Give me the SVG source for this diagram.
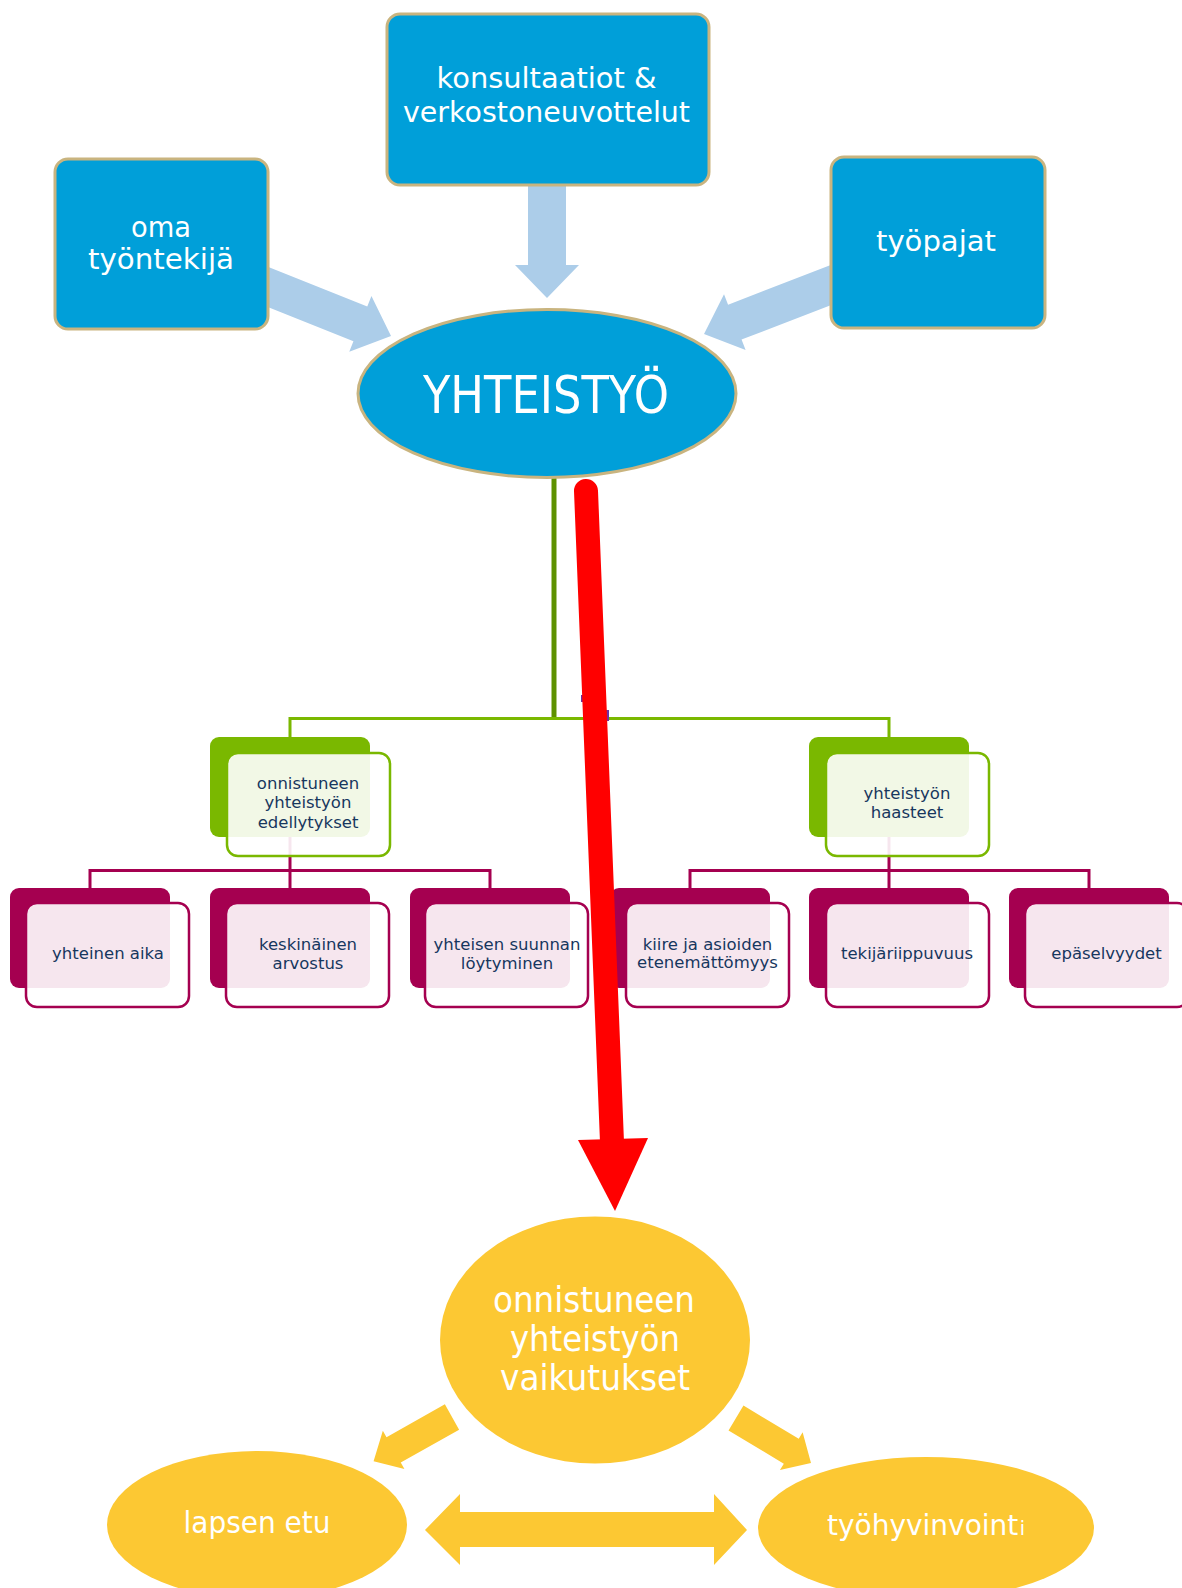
<svg xmlns="http://www.w3.org/2000/svg" width="1182" height="1588" viewBox="0 0 1182 1588">
<style>
.box{fill:#009FD9;stroke:#C9B47F;stroke-width:3}
.big{font-family:"DejaVu Sans","Liberation Sans",sans-serif;fill:#fff;text-anchor:middle}
.sm{font-family:"DejaVu Sans","Liberation Sans",sans-serif;fill:#17375E;text-anchor:middle;font-size:16.5px}
.barrow{fill:#ACCDE9}
.yarrow{fill:#FCC833}
.gback{fill:#7AB800}
.gfront{fill:#fff;fill-opacity:0.9;stroke:#7AB800;stroke-width:2.5}
.pback{fill:#A50050}
.pfront{fill:#fff;fill-opacity:0.9;stroke:#A50050;stroke-width:2.5}
.yell{fill:#FCC833}
.gline{stroke:#7AB800;stroke-width:3;fill:none}
.pline{stroke:#A50050;stroke-width:3;fill:none}
</style>
<rect width="1182" height="1588" fill="#fff"/>
<g id="connectors">
  <polygon class="barrow" points="528,185 566,185 566,265 579,265 547,298 515,265 528,265"/>
  <polygon class="barrow" transform="translate(268,287) rotate(21.7)" points="-25,-18.7 99.4,-18.7 99.4,-30 132.4,0 99.4,30 99.4,18.7 -25,18.7"/>
  <polygon class="barrow" transform="translate(831,285) rotate(158.9)" points="-25,-18.7 103.1,-18.7 103.1,-30 136.1,0 103.1,30 103.1,18.7 -25,18.7"/>
  <line x1="554" y1="474" x2="554" y2="720" stroke="#5E9100" stroke-width="5"/>
  <polyline class="gline" points="290,737 290,718.5 889,718.5 889,737"/>
  <polyline class="pline" points="90,888 90,870.5 490,870.5 490,888"/>
  <line class="pline" x1="290" y1="837" x2="290" y2="888"/>
  <polyline class="pline" points="690,888 690,870.5 1089,870.5 1089,888"/>
  <line class="pline" x1="889" y1="837" x2="889" y2="888"/>
  <rect x="581" y="695" width="2.5" height="7" fill="#7030A0"/>
  <rect x="606" y="710" width="3" height="11" fill="#7030A0"/>
  <polygon class="yarrow" transform="translate(452,1417) rotate(150.6)" points="0,-14.5 67,-14.5 67,-22 90,0 67,22 67,14.5 0,14.5"/>
  <polygon class="yarrow" transform="translate(736,1418) rotate(31)" points="0,-14.5 64.5,-14.5 64.5,-22 87.5,0 64.5,22 64.5,14.5 0,14.5"/>
  <polygon class="yarrow" points="425,1530 460,1494 460,1512 714,1512 714,1494 747,1530 714,1565 714,1547 460,1547 460,1565"/>
</g>
<g id="node-konsultaatiot">
  <rect class="box" x="387" y="14" width="322" height="171" rx="13"/>
  <text class="big" font-size="29" x="546.5" y="87.5" textLength="220" lengthAdjust="spacingAndGlyphs">konsultaatiot &amp;</text>
  <text class="big" font-size="29" x="546.5" y="121.5" textLength="287" lengthAdjust="spacingAndGlyphs">verkostoneuvottelut</text>
</g>
<g id="node-oma">
  <rect class="box" x="55" y="159" width="213" height="170" rx="13"/>
  <text class="big" font-size="29" x="161" y="236.5" textLength="60" lengthAdjust="spacingAndGlyphs">oma</text>
  <text class="big" font-size="29" x="161" y="268.5" textLength="146" lengthAdjust="spacingAndGlyphs">työntekijä</text>
</g>
<g id="node-tyopajat">
  <rect class="box" x="831" y="157" width="214" height="171" rx="13"/>
  <text class="big" font-size="29" x="936" y="250.5" textLength="120" lengthAdjust="spacingAndGlyphs">työpajat</text>
</g>
<g id="node-yhteistyo">
  <ellipse class="box" cx="547" cy="393.5" rx="189" ry="84"/>
  <text class="big" font-size="52" x="546" y="412.5" textLength="246" lengthAdjust="spacingAndGlyphs">YHTEISTYÖ</text>
</g>
<g id="node-edellytykset">
  <rect class="gback" x="210" y="737" width="160" height="100" rx="9"/>
  <rect class="gfront" x="227" y="753" width="163" height="103" rx="11"/>
  <text class="sm" x="308" y="789.3">onnistuneen</text>
  <text class="sm" x="308" y="808.3">yhteistyön</text>
  <text class="sm" x="308" y="827.5">edellytykset</text>
</g>
<g id="node-haasteet">
  <rect class="gback" x="809" y="737" width="160" height="100" rx="9"/>
  <rect class="gfront" x="826" y="753" width="163" height="103" rx="11"/>
  <text class="sm" x="907" y="798.5">yhteistyön</text>
  <text class="sm" x="907" y="817.5">haasteet</text>
</g>
<g id="node-yhteinen-aika">
  <rect class="pback" x="10" y="888" width="160" height="100" rx="9"/>
  <rect class="pfront" x="26" y="903" width="163" height="104" rx="11"/>
  <text class="sm" x="108" y="958.5">yhteinen aika</text>
</g>
<g id="node-keskinainen">
  <rect class="pback" x="210" y="888" width="160" height="100" rx="9"/>
  <rect class="pfront" x="226" y="903" width="163" height="104" rx="11"/>
  <text class="sm" x="308" y="949.5">keskinäinen</text>
  <text class="sm" x="308" y="968.5">arvostus</text>
</g>
<g id="node-suunnan">
  <rect class="pback" x="410" y="888" width="160" height="100" rx="9"/>
  <rect class="pfront" x="425" y="903" width="163" height="104" rx="11"/>
  <text class="sm" x="507" y="949.5">yhteisen suunnan</text>
  <text class="sm" x="507" y="968.5">löytyminen</text>
</g>
<g id="node-kiire">
  <rect class="pback" x="610" y="888" width="160" height="100" rx="9"/>
  <rect class="pfront" x="626" y="903" width="163" height="104" rx="11"/>
  <text class="sm" x="707.5" y="949.5">kiire ja asioiden</text>
  <text class="sm" x="707.5" y="968">etenemättömyys</text>
</g>
<g id="node-tekijariippuvuus">
  <rect class="pback" x="809" y="888" width="160" height="100" rx="9"/>
  <rect class="pfront" x="826" y="903" width="163" height="104" rx="11"/>
  <text class="sm" x="907" y="958.5">tekijäriippuvuus</text>
</g>
<g id="node-epaselvyydet">
  <rect class="pback" x="1009" y="888" width="160" height="100" rx="9"/>
  <rect class="pfront" x="1025" y="903" width="163" height="104" rx="11"/>
  <text class="sm" x="1106.5" y="958.5">epäselvyydet</text>
</g>
<g id="node-vaikutukset">
  <ellipse class="yell" cx="595" cy="1340" rx="155" ry="123.5"/>
  <text class="big" font-size="35" x="594" y="1312" textLength="202" lengthAdjust="spacingAndGlyphs">onnistuneen</text>
  <text class="big" font-size="35" x="595" y="1351" textLength="170" lengthAdjust="spacingAndGlyphs">yhteistyön</text>
  <text class="big" font-size="35" x="595" y="1389.5" textLength="190" lengthAdjust="spacingAndGlyphs">vaikutukset</text>
</g>
<g id="node-lapsen-etu">
  <ellipse class="yell" cx="257" cy="1525" rx="150" ry="74"/>
  <text class="big" font-size="31" x="257" y="1532.5" textLength="147" lengthAdjust="spacingAndGlyphs">lapsen etu</text>
</g>
<g id="node-tyohyvinvointi">
  <ellipse class="yell" cx="926" cy="1528" rx="168" ry="71"/>
  <text class="big" font-size="28" x="827" y="1535" style="text-anchor:start">työhyvinvoint<tspan font-size="19" dx="1.5">i</tspan></text>
</g>
<g id="connector-red">
  <line x1="586" y1="491" x2="612" y2="1142" stroke="#FF0000" stroke-width="24" stroke-linecap="round"/>
  <polygon points="578,1140 648,1138 615,1211" fill="#FF0000"/>
</g>
</svg>
